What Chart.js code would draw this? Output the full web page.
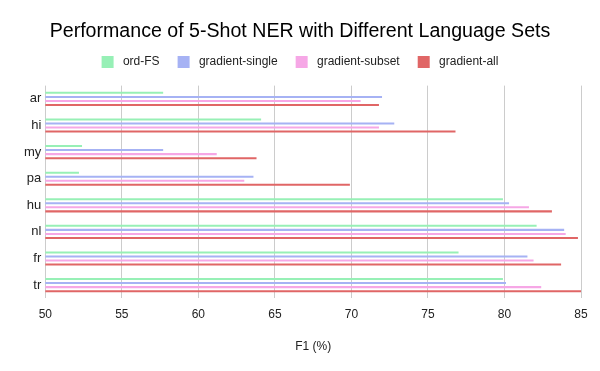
<!DOCTYPE html>
<html>
<head>
<meta charset="utf-8">
<script src="https://cdn.jsdelivr.net/npm/chart.js@4/dist/chart.umd.min.js"></script>
<style>
html,body{margin:0;padding:0;background:#fff;}
#wrap{width:600px;height:371px;position:relative;}
</style>
</head>
<body>
<div id="wrap"><canvas id="c" width="600" height="371"></canvas></div>
<script>
const languages = ["ar", "hi", "my", "pa", "hu", "nl", "fr", "tr"];
const ordFS = [57.7, 64.1, 52.4, 52.2, 79.9, 82.1, 77.0, 79.9];
const gradientSingle = [72.0, 72.8, 57.7, 63.6, 80.3, 83.9, 81.5, 80.1];
const gradientSubset = [70.6, 71.8, 61.2, 63.0, 81.6, 84.0, 81.9, 82.4];
const gradientAll = [71.8, 76.8, 63.8, 69.9, 83.1, 84.8, 83.7, 85.0];
const xTicks = [50, 55, 60, 65, 70, 75, 80, 85];

const font = "'Liberation Sans', Arial, sans-serif";
Chart.defaults.font.family = font;

new Chart(document.getElementById('c'), {
  type: 'bar',
  data: {
    labels: languages,
    datasets: [
      {label: 'ord-FS', data: ordFS, backgroundColor: '#97f0b6'},
      {label: 'gradient-single', data: gradientSingle, backgroundColor: '#a6b2f4'},
      {label: 'gradient-subset', data: gradientSubset, backgroundColor: '#f6a7e6'},
      {label: 'gradient-all', data: gradientAll, backgroundColor: '#e06666'}
    ]
  },
  options: {
    indexAxis: 'y',
    responsive: false,
    animation: false,
    devicePixelRatio: 1,
    layout: {padding: {left: 19, right: 19, top: 0, bottom: 12.8}},
    datasets: {bar: {categoryPercentage: 0.608, barPercentage: 0.5}},
    plugins: {
      title: {
        display: true,
        text: 'Performance of 5-Shot NER with Different Language Sets',
        color: '#000',
        font: {size: 19.6, family: font, weight: 'normal'},
        padding: {top: 20, bottom: -5.5}
      },
      legend: {
        position: 'top',
        labels: {
          boxWidth: 12, boxHeight: 12,
          color: '#222',
          font: {size: 12, family: font},
          padding: 18,
          generateLabels: (chart) => Chart.defaults.plugins.legend.labels.generateLabels(chart)
            .map(l => Object.assign(l, {text: ' ' + l.text}))
        }
      },
      tooltip: {enabled: false}
    },
    scales: {
      x: {
        min: 50, max: 85,
        afterBuildTicks: (axis) => { axis.ticks = xTicks.map(v => ({value: v})); },
        grid: {color: '#cccccc', drawTicks: false, lineWidth: 1},
        border: {display: false},
        ticks: {color: '#222', font: {size: 12, family: font}, padding: 9.5},
        title: {display: true, text: 'F1 (%)', color: '#222', font: {size: 12, family: font}, padding: {top: 8, bottom: 4}}
      },
      xTop: {
        type: 'linear',
        position: 'top',
        display: true,
        min: 0, max: 1,
        grid: {display: false, drawTicks: false},
        border: {display: false},
        ticks: {display: false},
        afterFit: (s) => { s.height = 7.6; }
      },
      y: {
        grid: {display: false, drawTicks: false},
        border: {display: false},
        ticks: {color: '#222', font: {size: 13, family: font}, padding: 4},
        afterFit: (s) => { s.width = 26.3; }
      }
    }
  }
});
</script>
</body>
</html>
